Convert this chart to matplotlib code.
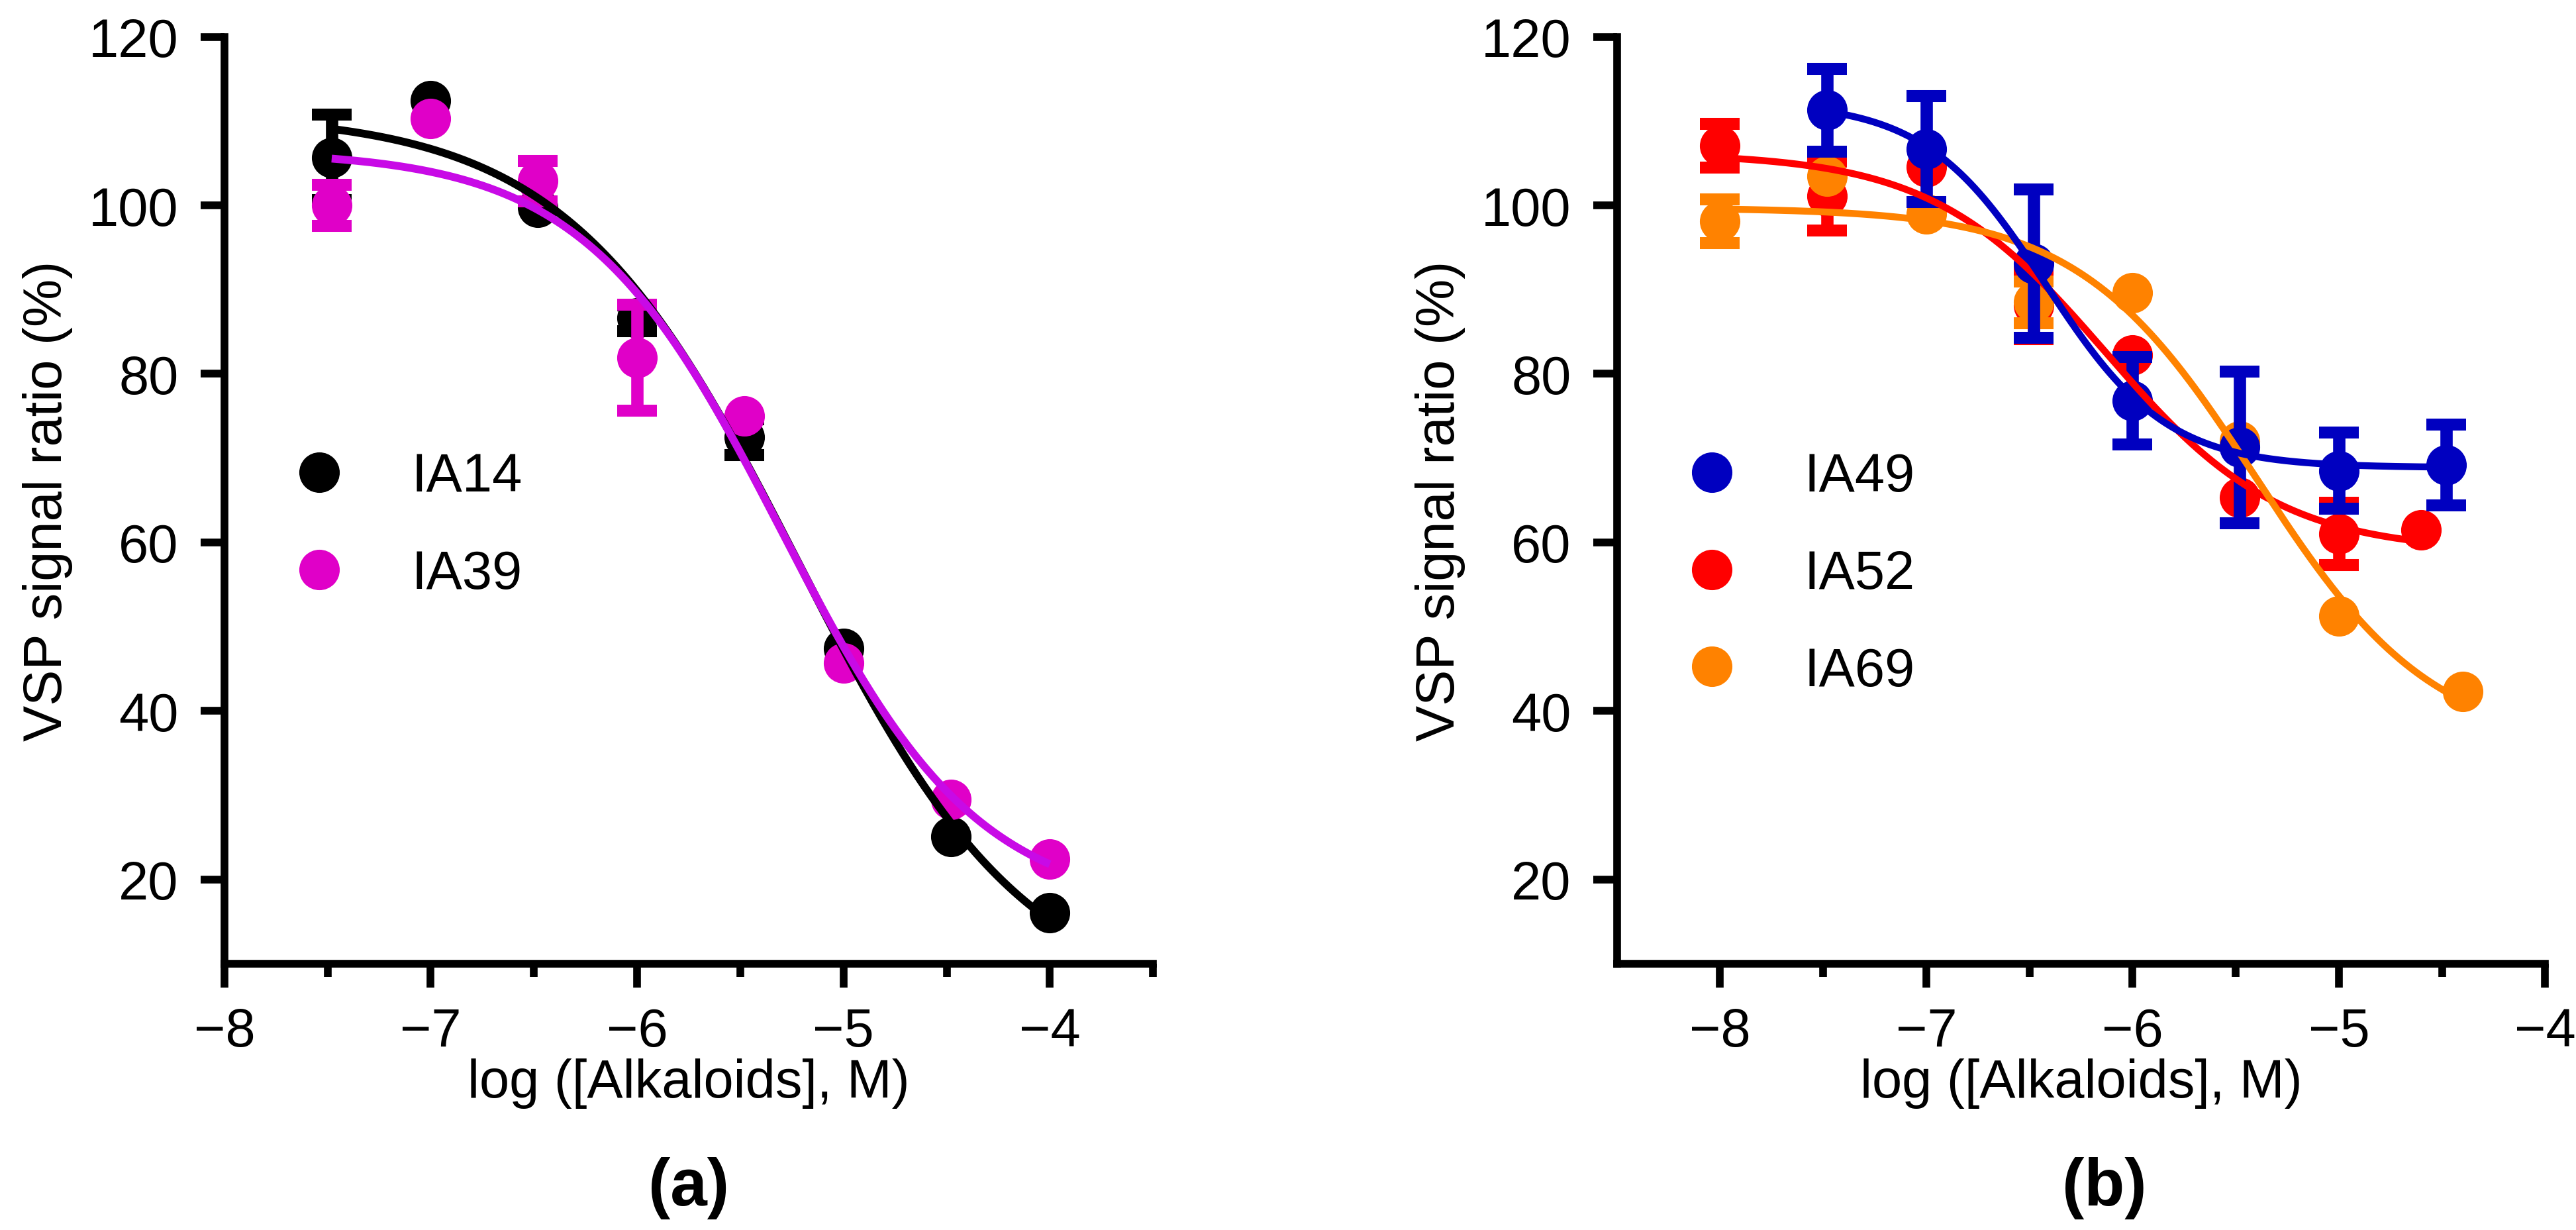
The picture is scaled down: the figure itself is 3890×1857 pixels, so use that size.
import numpy as np
import matplotlib
matplotlib.use("Agg")
import matplotlib.pyplot as plt
from matplotlib.lines import Line2D

plt.rcParams['font.family'] = ['Liberation Sans', 'DejaVu Sans']
plt.rcParams['axes.unicode_minus'] = True

# ---------------- data ----------------
# Panel (a)
x_a = [-7.48, -7.0, -6.48, -6.0, -5.48, -5.0, -4.48, -4.0]
ia14_y = [105.7, 112.4, 99.8, 86.6, 72.5, 47.4, 25.1, 16.0]
ia14_e = [5.1, 0.0, 0.0, 1.5, 2.1, 0.0, 0.0, 0.0]
ia39_y = [100.0, 110.3, 102.9, 81.9, 75.0, 45.7, 29.5, 22.4]
ia39_e = [2.45, 0.0, 2.4, 6.3, 0.0, 0.0, 0.0, 0.0]

# Panel (b)
x_ia49 = [-7.48, -7.0, -6.48, -6.0, -5.48, -5.0, -4.48]
ia49_y = [111.3, 106.7, 93.1, 76.8, 71.3, 68.5, 69.2]
ia49_e = [4.9, 6.3, 8.8, 5.2, 9.0, 4.5, 4.8]

x_ia52 = [-8.0, -7.48, -7.0, -6.48, -6.0, -5.48, -5.0, -4.6]
ia52_y = [107.1, 101.1, 104.6, 88.1, 82.2, 65.3, 61.0, 61.5]
ia52_e = [2.6, 4.1, 0.0, 4.0, 0.0, 0.0, 3.7, 0.0]

x_ia69 = [-8.0, -7.48, -7.0, -6.48, -6.0, -5.48, -5.0, -4.4]
ia69_y = [98.1, 103.5, 99.0, 88.5, 89.6, 72.0, 51.25, 42.3]
ia69_e = [2.6, 0.0, 0.0, 2.5, 0.0, 0.0, 0.0, 0.0]

y_ticks = [20, 40, 60, 80, 100, 120]
x_major = [-8, -7, -6, -5, -4]
x_minor_a = [-7.5, -6.5, -5.5, -4.5, -3.5]
x_minor_b = [-7.5, -6.5, -5.5, -4.5]

C_BLACK = '#000000'
C_MAG = '#E000C8'
C_MAG_LINE = '#C80AE6'
C_BLUE = '#0000C0'
C_RED = '#FF0000'
C_ORANGE = '#FF8200'

FS = 58.5
LW_AX = 8.4


def fit4pl(x, y):
    """Least-squares 4-parameter logistic fit (grid search on logIC50/Hill,
    exact linear solve for top/bottom)."""
    x = np.asarray(x, float)
    y = np.asarray(y, float)
    ec = np.linspace(-9.0, -3.0, 601)
    hs = np.linspace(0.3, 4.0, 371)
    E, H = np.meshgrid(ec, hs, indexing='ij')
    with np.errstate(over='ignore', invalid='ignore', divide='ignore'):
        s = 1.0 / (1.0 + 10.0 ** ((x[None, None, :] - E[..., None]) * H[..., None]))
        b = 1.0 - s
        Saa = (s * s).sum(-1); Sbb = (b * b).sum(-1); Sab = (s * b).sum(-1)
        Say = (s * y).sum(-1); Sby = (b * y).sum(-1)
        det = Saa * Sbb - Sab ** 2
        top = (Say * Sbb - Sby * Sab) / det
        bot = (Sby * Saa - Say * Sab) / det
        res = ((top[..., None] * s + bot[..., None] * b - y) ** 2).sum(-1)
    res = np.where(np.isfinite(res) & (np.abs(det) > 1e-9), res, np.inf)
    i = np.unravel_index(np.argmin(res), res.shape)
    return top[i], bot[i], E[i], H[i]


def curve(x, y):
    t, bt, e, h = fit4pl(x, y)
    xs = np.linspace(min(x), max(x), 400)
    ys = bt + (t - bt) / (1.0 + 10.0 ** ((xs - e) * h))
    return xs, ys


def style_axes(ax, xlim, minor):
    ax.set_xlim(*xlim)
    ax.set_ylim(10, 120)
    ax.set_yticks(y_ticks)
    ax.set_xticks(x_major)
    ax.set_xticks(minor, minor=True)
    for sp in ('top', 'right'):
        ax.spines[sp].set_visible(False)
    for sp in ('left', 'bottom'):
        ax.spines[sp].set_linewidth(LW_AX)
        ax.spines[sp].set_capstyle('projecting')
    ax.tick_params(axis='both', which='major', length=26, width=LW_AX,
                   direction='out', labelsize=FS, color='black')
    ax.tick_params(axis='x', which='major', pad=21)
    ax.tick_params(axis='y', which='major', pad=24)
    ax.tick_params(axis='x', which='minor', length=14.6, width=LW_AX,
                   direction='out')
    ax.tick_params(axis='y', which='minor', length=0)
    ax.set_xlabel('log ([Alkaloids], M)', fontsize=FS)
    ax.set_ylabel('VSP signal ratio (%)', fontsize=FS)
    ax.xaxis.set_label_coords(0.5, -0.102)
    ax.yaxis.set_label_coords(-0.163, 0.5)


def draw_series(ax, x, y, e, color, z):
    e = np.asarray(e, float)
    shown = e > 0
    xa = np.asarray(x, float)[shown]
    ya = np.asarray(y, float)[shown]
    if shown.any():
        ax.errorbar(xa, ya, yerr=e[shown], fmt='none', ecolor=color,
                    elinewidth=13.4, capsize=21.6, capthick=13, zorder=z)
    ax.plot(x, y, 'o', color=color, markersize=44, markeredgewidth=0,
            zorder=z)


fig = plt.figure(figsize=(38.9, 18.58), dpi=100)
ax_a = fig.add_axes([0.0871, 0.2165, 0.3605, 0.753])
ax_b = fig.add_axes([0.6277, 0.2165, 0.3603, 0.753])

# ---- panel (a)
style_axes(ax_a, (-8, -3.5), x_minor_a)
draw_series(ax_a, x_a, ia14_y, ia14_e, C_BLACK, 2)
draw_series(ax_a, x_a, ia39_y, ia39_e, C_MAG, 3)
xs, ys = curve(x_a, ia14_y)
ax_a.plot(xs, ys, color=C_BLACK, lw=8.5, zorder=5, solid_capstyle='butt')
xs, ys = curve(x_a, ia39_y)
ax_a.plot(xs, ys, color=C_MAG_LINE, lw=8.5, zorder=6, solid_capstyle='butt')

# ---- panel (b)
style_axes(ax_b, (-8.5, -4), x_minor_b)
draw_series(ax_b, x_ia52, ia52_y, ia52_e, C_RED, 2)
draw_series(ax_b, x_ia69, ia69_y, ia69_e, C_ORANGE, 3)
draw_series(ax_b, x_ia49, ia49_y, ia49_e, C_BLUE, 4)
xs, ys = curve(x_ia52, ia52_y)
ax_b.plot(xs, ys, color=C_RED, lw=7.5, zorder=5, solid_capstyle='butt')
xs, ys = curve(x_ia69, ia69_y)
ax_b.plot(xs, ys, color=C_ORANGE, lw=7.5, zorder=6, solid_capstyle='butt')
xs, ys = curve(x_ia49, ia49_y)
ax_b.plot(xs, ys, color=C_BLUE, lw=7.5, zorder=7, solid_capstyle='butt')


def legend(ax, items):
    handles = [Line2D([], [], marker='o', ls='none', color=c, markersize=44,
                      markeredgewidth=0) for c, _ in items]
    labels = [l for _, l in items]
    ax.legend(handles, labels, loc='upper left', bbox_to_anchor=(0.079, 0.552),
              frameon=False, fontsize=FS, borderpad=0, borderaxespad=0,
              handlelength=0.8, handletextpad=1.32, labelspacing=0.87,
              numpoints=1)


legend(ax_a, [(C_BLACK, 'IA14'), (C_MAG, 'IA39')])
legend(ax_b, [(C_BLUE, 'IA49'), (C_RED, 'IA52'), (C_ORANGE, 'IA69')])

fig.text(0.2674, 0.0342, '(a)', ha='center', va='center', fontsize=72,
         fontweight='bold')
fig.text(0.817, 0.0342, '(b)', ha='center', va='center', fontsize=72,
         fontweight='bold')

fig.savefig('out.png', dpi=100, facecolor='white')
